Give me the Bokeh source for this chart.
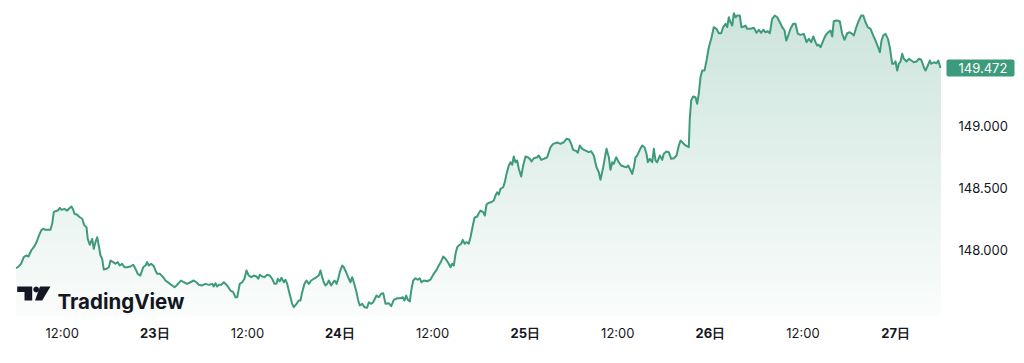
import numpy as np
import pandas as pd
from bokeh.plotting import figure
from bokeh.models import Label, PolyAnnotation, BoxAnnotation, Range1d
from bokeh.embed import file_html
from bokeh.resources import INLINE

# ---------------- data ----------------
BASE_DATE = "2024-11-22 00:00"   # the "22日" midnight; HOURS are measured from here

HOURS = [
    6.03, 6.37, 6.68, 7.02, 7.37, 7.63, 7.98, 8.32, 8.67, 8.96,
    9.27, 9.53, 9.83, 10.48, 10.70, 10.91, 11.13, 11.43, 11.69, 11.91,
    12.29, 12.64, 12.94, 13.20, 13.42, 13.59, 13.94, 14.28, 14.59, 14.89,
    15.15, 15.31, 15.57, 15.88, 16.09, 16.31, 16.53, 16.74, 16.96, 17.18,
    17.39, 17.74, 18.04, 18.26, 18.61, 18.90, 19.20, 19.46, 19.77, 20.07,
    20.42, 20.85, 21.20, 21.50, 21.79, 22.14, 22.49, 22.79, 23.01, 23.22,
    23.53, 23.87, 24.09, 24.31, 24.65, 25.09, 25.38, 25.81, 26.25, 26.55,
    26.81, 27.11, 27.42, 27.76, 28.20, 28.62, 29.05, 29.40, 29.70, 30.14,
    30.57, 31.00, 31.44, 31.64, 31.86, 32.08, 32.29, 32.60, 32.94, 33.38,
    33.81, 34.16, 34.46, 34.68, 35.01, 35.32, 35.62, 35.88, 36.18, 36.49,
    36.83, 37.18, 37.40, 37.61, 37.92, 38.21, 38.56, 38.90, 39.21, 39.51,
    39.77, 39.94, 40.20, 40.42, 40.72, 40.94, 41.16, 41.36, 41.58, 41.80,
    42.01, 42.36, 42.66, 42.88, 43.10, 43.40, 43.66, 43.96, 44.27, 44.60,
    44.95, 45.25, 45.47, 45.69, 45.90, 46.12, 46.34, 46.55, 46.86, 47.12,
    47.29, 47.55, 47.77, 47.97, 48.28, 48.49, 48.80, 49.14, 49.36, 49.58,
    49.79, 50.14, 50.36, 50.57, 50.88, 51.17, 51.52, 51.73, 52.04, 52.30,
    52.73, 53.03, 53.34, 53.60, 53.90, 54.32, 54.64, 54.97, 55.41, 55.84,
    56.14, 56.36, 56.58, 56.79, 57.05, 57.23, 57.49, 57.78, 58.08, 58.34,
    58.56, 58.86, 59.30, 59.73, 60.16, 60.51, 60.80, 61.12, 61.37, 61.67,
    61.89, 62.10, 62.32, 62.54, 62.75, 62.97, 63.19, 63.40, 63.71, 63.91,
    64.17, 64.39, 64.69, 64.91, 65.17, 65.43, 65.78, 65.99, 66.21, 66.56,
    66.77, 66.99, 67.28, 67.59, 67.93, 68.15, 68.37, 68.58, 68.80, 69.15,
    69.36, 69.58, 69.88, 70.10, 70.32, 70.52, 70.74, 70.96, 71.17, 71.48,
    71.74, 72.04, 72.34, 72.60, 72.82, 73.12, 73.56, 73.76, 74.07, 74.41,
    74.85, 75.28, 75.63, 76.15, 76.58, 77.00, 77.35, 77.70, 77.96, 78.22,
    78.65, 78.82, 79.08, 79.39, 79.82, 80.25, 80.55, 80.89, 81.24, 81.54,
    81.76, 82.11, 82.54, 82.84, 83.06, 83.28, 83.48, 83.79, 84.13, 84.44,
    84.78, 85.13, 85.35, 85.56, 85.87, 86.08, 86.30, 86.52, 86.85, 87.16,
    87.46, 87.72, 87.89, 88.15, 88.46, 88.67, 88.89, 89.11, 89.45, 89.76,
    89.96, 90.31, 90.61, 90.92, 91.26, 91.61, 91.91, 92.13, 92.48, 92.78,
    93.20, 93.33, 93.51, 93.77, 94.07, 94.29, 94.50, 94.72, 94.94, 95.24,
    95.50, 95.80, 96.11, 96.44, 96.79, 97.09, 97.40, 97.66, 97.96, 98.18,
    98.39, 98.61, 98.83, 99.04, 99.26, 99.48, 99.81, 100.03, 100.33, 100.55,
    100.77, 101.20, 101.63, 101.98, 102.28, 102.59, 102.85, 103.14, 103.44, 103.70,
    104.01, 104.35, 104.66, 105.00, 105.31, 105.61, 105.83, 106.09, 106.38, 106.73,
    107.03, 107.33, 107.68, 108.11, 108.46, 108.76, 109.07, 109.33, 109.62, 109.84,
    110.05, 110.27, 110.62, 110.92, 111.27, 111.57, 111.79, 111.99, 112.35, 112.77,
    113.08, 113.38, 113.73, 114.07, 114.38, 114.59, 114.94, 115.24, 115.55, 115.81,
    116.10, 116.40, 116.75, 117.10, 117.40, 117.70, 117.96, 118.18, 118.40, 118.70,
    119.00, 119.25, 119.56, 119.77, 119.99, 120.21, 120.42, 120.64, 120.86, 121.07,
    121.42, 121.72, 122.03, 122.36, 122.71, 123.01, 123.32, 123.66, 123.88, 124.18,
    124.44, 124.62, 124.96, 125.31, 125.53, 125.82,
]

PRICES = [
    147.857, 147.871, 147.895, 147.946, 147.960, 147.951, 148.000, 148.027, 148.067, 148.115,
    148.161, 148.175, 148.167, 148.167, 148.215, 148.309, 148.317, 148.322, 148.344, 148.328,
    148.336, 148.322, 148.341, 148.355, 148.331, 148.296, 148.288, 148.268, 148.256, 148.201,
    148.188, 148.094, 148.046, 148.094, 148.014, 148.067, 148.107, 148.040, 147.960, 147.933,
    147.847, 147.852, 147.865, 147.919, 147.906, 147.893, 147.906, 147.879, 147.893, 147.865,
    147.865, 147.871, 147.885, 147.852, 147.812, 147.798, 147.865, 147.879, 147.906, 147.879,
    147.893, 147.873, 147.839, 147.812, 147.812, 147.785, 147.758, 147.739, 147.718, 147.704,
    147.718, 147.739, 147.758, 147.744, 147.731, 147.744, 147.758, 147.744, 147.723, 147.718,
    147.731, 147.723, 147.731, 147.710, 147.736, 147.710, 147.723, 147.723, 147.744, 147.718,
    147.677, 147.664, 147.623, 147.623, 147.731, 147.744, 147.772, 147.839, 147.798, 147.785,
    147.798, 147.790, 147.772, 147.804, 147.790, 147.785, 147.804, 147.798, 147.772, 147.731,
    147.731, 147.772, 147.752, 147.780, 147.744, 147.764, 147.731, 147.677, 147.623, 147.570,
    147.543, 147.570, 147.597, 147.597, 147.664, 147.731, 147.758, 147.731, 147.758, 147.772,
    147.785, 147.798, 147.839, 147.785, 147.744, 147.718, 147.731, 147.758, 147.718, 147.744,
    147.758, 147.731, 147.772, 147.825, 147.879, 147.865, 147.825, 147.772, 147.744, 147.785,
    147.744, 147.664, 147.597, 147.556, 147.570, 147.543, 147.538, 147.583, 147.570, 147.583,
    147.637, 147.623, 147.651, 147.656, 147.570, 147.575, 147.551, 147.602, 147.615, 147.615,
    147.623, 147.597, 147.637, 147.602, 147.589, 147.677, 147.758, 147.776, 147.764, 147.776,
    147.744, 147.758, 147.752, 147.766, 147.812, 147.844, 147.879, 147.914, 147.951, 147.933,
    147.914, 147.893, 147.865, 147.893, 147.879, 147.973, 148.027, 148.040, 148.054, 148.086,
    148.054, 148.067, 148.054, 148.107, 148.188, 148.264, 148.274, 148.301, 148.322, 148.309,
    148.282, 148.371, 148.385, 148.389, 148.403, 148.443, 148.470, 148.451, 148.497, 148.510,
    148.551, 148.618, 148.685, 148.712, 148.691, 148.758, 148.712, 148.726, 148.659, 148.597,
    148.685, 148.758, 148.752, 148.739, 148.718, 148.744, 148.752, 148.766, 148.731, 148.739,
    148.752, 148.833, 148.860, 148.871, 148.860, 148.873, 148.901, 148.895, 148.860, 148.812,
    148.801, 148.788, 148.847, 148.820, 148.806, 148.793, 148.801, 148.766, 148.672, 148.631,
    148.570, 148.672, 148.820, 148.752, 148.651, 148.712, 148.699, 148.752, 148.712, 148.685,
    148.677, 148.672, 148.685, 148.659, 148.618, 148.672, 148.752, 148.766, 148.812, 148.847,
    148.833, 148.780, 148.712, 148.739, 148.712, 148.820, 148.726, 148.712, 148.766, 148.731,
    148.780, 148.798, 148.793, 148.739, 148.744, 148.766, 148.847, 148.887, 148.865, 148.847,
    148.833, 149.062, 149.210, 149.242, 149.236, 149.183, 149.264, 149.397, 149.451, 149.451,
    149.532, 149.639, 149.707, 149.801, 149.788, 149.752, 149.752, 149.801, 149.828, 149.801,
    149.881, 149.841, 149.814, 149.914, 149.881, 149.895, 149.895, 149.801, 149.806, 149.814,
    149.788, 149.788, 149.796, 149.756, 149.780, 149.756, 149.780, 149.760, 149.768, 149.752,
    149.868, 149.895, 149.881, 149.841, 149.801, 149.774, 149.693, 149.734, 149.788, 149.828,
    149.828, 149.747, 149.739, 149.747, 149.680, 149.707, 149.680, 149.726, 149.680, 149.653,
    149.659, 149.639, 149.693, 149.734, 149.760, 149.774, 149.726, 149.849, 149.855, 149.849,
    149.747, 149.699, 149.752, 149.760, 149.747, 149.734, 149.806, 149.855, 149.895, 149.895,
    149.841, 149.801, 149.788, 149.734, 149.693, 149.645, 149.599, 149.693, 149.734, 149.747,
    149.707, 149.639, 149.506, 149.506, 149.526, 149.451, 149.506, 149.524, 149.586, 149.546,
    149.524, 149.546, 149.532, 149.518, 149.524, 149.546, 149.538, 149.478, 149.451, 149.492,
    149.532, 149.506, 149.518, 149.510, 149.532, 149.472,
]

TIME_TICK_HOURS = [12, 36, 60, 84, 108]            # 12:00 each day
TIME_TICK_LABELS = ["12:00", "12:00", "12:00", "12:00", "12:00"]
DAY_TICK_HOURS = [24, 48, 72, 96, 120]             # midnight of 23..27
DAY_TICK_LABELS = ["23日", "24日", "25日", "26日", "27日"]
PRICE_TICKS = [148.0, 148.5, 149.0]
LOGO_TEXT = "TradingView"

# ---------------- style / layout ----------------
W, H = 1016, 355
LINE = "#3e9a7c"
TEXT = "#131722"
FONT = "Inter"
VIEW_START_H, VIEW_END_H = 4.004, 135.67      # hours shown across the full width
PRICE_LO, PRICE_HI = 147.1532, 150.0161       # prices at bottom / top of the canvas
FILL_FLOOR = 147.4758                         # bottom of the gradient pane
LABEL_ROW_Y = 23                              # px above the bottom for the time row
PRICE_LABEL_X = 958                           # px from the left for the price scale
BADGE_LEFT, BADGE_RIGHT, BADGE_HALF_H = 946, 1014, 8.5   # px
PX_PER_PRICE = H / (PRICE_HI - PRICE_LO)

base = pd.Timestamp(BASE_DATE)
def to_time(hours):
    return base + pd.to_timedelta(np.asarray(hours, dtype=float), unit="h")

def to_ms(hours):
    return list((to_time(hours) - pd.Timestamp("1970-01-01")) / pd.Timedelta(milliseconds=1))

times = to_time(HOURS)
prices = np.asarray(PRICES)

p = figure(width=W, height=H, x_axis_type="datetime",
           x_axis_location=None, y_axis_location=None,
           x_range=Range1d(to_time([VIEW_START_H])[0], to_time([VIEW_END_H])[0]),
           y_range=Range1d(PRICE_LO, PRICE_HI),
           output_backend="svg", toolbar_location=None,
           min_border=0)

p.background_fill_color = "white"
p.border_fill_color = "white"
p.outline_line_color = None
p.xgrid.visible = False
p.ygrid.visible = False

# gradient area under the line, built from stacked opaque bands
teal = np.array([63, 154, 124])
N = 60
edges = np.linspace(FILL_FLOOR, prices.max(), N + 1)
for k in range(N):
    lo = edges[k]
    frac = (k + 0.5) / N
    a = 0.025 + 0.24 * frac
    c = np.round(255 * (1 - a) + teal * a).astype(int)
    color = "#%02x%02x%02x" % tuple(c)
    y2 = np.maximum(prices, lo)
    p.varea(x=times, y1=lo, y2=y2, fill_color=color, fill_alpha=1.0)

p.line(times, prices, line_color=LINE, line_width=2, line_join="round")

# time scale
for ms, lab in zip(to_ms(TIME_TICK_HOURS), TIME_TICK_LABELS):
    p.add_layout(Label(x=ms, y=LABEL_ROW_Y, x_units="data", y_units="screen",
                       text=lab, text_align="center", text_baseline="middle",
                       text_font=FONT, text_font_size="13px", text_color=TEXT))
for ms, lab in zip(to_ms(DAY_TICK_HOURS), DAY_TICK_LABELS):
    p.add_layout(Label(x=ms, y=LABEL_ROW_Y, x_units="data", y_units="screen",
                       text=lab, text_align="center", text_baseline="middle",
                       text_font=FONT, text_font_style="bold", text_font_size="13px",
                       text_color=TEXT))

# price scale
for v in PRICE_TICKS:
    p.add_layout(Label(x=PRICE_LABEL_X, y=v, x_units="screen", y_units="data",
                       text="%.3f" % v, text_align="left", text_baseline="middle",
                       text_font=FONT, text_font_size="13px", text_color=TEXT))

# last price badge
last = PRICES[-1]
p.add_layout(BoxAnnotation(left=BADGE_LEFT, right=BADGE_RIGHT,
                           left_units="screen", right_units="screen",
                           bottom=last - BADGE_HALF_H / PX_PER_PRICE,
                           top=last + BADGE_HALF_H / PX_PER_PRICE,
                           fill_color=LINE, fill_alpha=1.0, line_color=None,
                           border_radius=2))
p.add_layout(Label(x=PRICE_LABEL_X, y=last, x_units="screen", y_units="data",
                   text="%.3f" % last, text_align="left", text_baseline="middle",
                   text_font=FONT, text_font_size="13px", text_color="white"))

# TradingView logo mark (screen units)
LOGO_DARK = "#131722"
p.add_layout(PolyAnnotation(xs=[16.7, 31.7, 31.7, 24, 24, 16.7], ys=[69, 69, 55, 55, 63.5, 63.5],
                            xs_units="screen", ys_units="screen",
                            fill_color=LOGO_DARK, fill_alpha=1, line_color=None))
th = np.linspace(0, 2 * np.pi, 24, endpoint=False)
p.add_layout(PolyAnnotation(xs=list(35.7 + 2.9 * np.cos(th)), ys=list(66 + 2.9 * np.sin(th)),
                            xs_units="screen", ys_units="screen",
                            fill_color=LOGO_DARK, fill_alpha=1, line_color=None))
p.add_layout(PolyAnnotation(xs=[39.5, 50, 41.7, 34.5], ys=[69, 69, 55, 55],
                            xs_units="screen", ys_units="screen",
                            fill_color=LOGO_DARK, fill_alpha=1, line_color=None))
p.add_layout(Label(x=57, y=54.3, x_units="screen", y_units="screen", text=LOGO_TEXT,
                   text_font=FONT, text_font_style="bold", text_font_size="20.5px",
                   text_color=LOGO_DARK, text_baseline="alphabetic"))

open("out.html", "w").write(file_html(p, INLINE))
